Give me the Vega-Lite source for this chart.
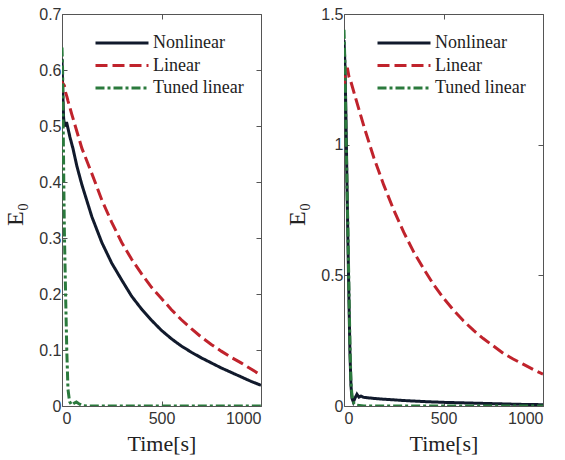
{
  "$schema": "https://vega.github.io/schema/vega-lite/v6.json",
  "background": "white",
  "padding": {"left": 3, "top": 5, "right": 5, "bottom": 5},
  "bounds": "flush",
  "spacing": 83,
  "datasets": {
    "left": [
      {"t": 0, "E": 0.62, "series": "Nonlinear"},
      {"t": 4, "E": 0.56, "series": "Nonlinear"},
      {"t": 8, "E": 0.515, "series": "Nonlinear"},
      {"t": 12, "E": 0.5, "series": "Nonlinear"},
      {"t": 18, "E": 0.505, "series": "Nonlinear"},
      {"t": 24, "E": 0.505, "series": "Nonlinear"},
      {"t": 30, "E": 0.496, "series": "Nonlinear"},
      {"t": 40, "E": 0.48, "series": "Nonlinear"},
      {"t": 55, "E": 0.46, "series": "Nonlinear"},
      {"t": 75, "E": 0.428, "series": "Nonlinear"},
      {"t": 100, "E": 0.395, "series": "Nonlinear"},
      {"t": 150, "E": 0.338, "series": "Nonlinear"},
      {"t": 200, "E": 0.292, "series": "Nonlinear"},
      {"t": 250, "E": 0.255, "series": "Nonlinear"},
      {"t": 300, "E": 0.225, "series": "Nonlinear"},
      {"t": 350, "E": 0.196, "series": "Nonlinear"},
      {"t": 400, "E": 0.173, "series": "Nonlinear"},
      {"t": 450, "E": 0.153, "series": "Nonlinear"},
      {"t": 500, "E": 0.135, "series": "Nonlinear"},
      {"t": 550, "E": 0.12, "series": "Nonlinear"},
      {"t": 600, "E": 0.107, "series": "Nonlinear"},
      {"t": 650, "E": 0.096, "series": "Nonlinear"},
      {"t": 700, "E": 0.086, "series": "Nonlinear"},
      {"t": 750, "E": 0.077, "series": "Nonlinear"},
      {"t": 800, "E": 0.068, "series": "Nonlinear"},
      {"t": 850, "E": 0.06, "series": "Nonlinear"},
      {"t": 900, "E": 0.052, "series": "Nonlinear"},
      {"t": 950, "E": 0.044, "series": "Nonlinear"},
      {"t": 1000, "E": 0.037, "series": "Nonlinear"},
      {"t": 0, "E": 0.56, "series": "Linear"},
      {"t": 6, "E": 0.575, "series": "Linear"},
      {"t": 12, "E": 0.572, "series": "Linear"},
      {"t": 18, "E": 0.56, "series": "Linear"},
      {"t": 25, "E": 0.552, "series": "Linear"},
      {"t": 30, "E": 0.545, "series": "Linear"},
      {"t": 50, "E": 0.52, "series": "Linear"},
      {"t": 100, "E": 0.46, "series": "Linear"},
      {"t": 150, "E": 0.415, "series": "Linear"},
      {"t": 200, "E": 0.368, "series": "Linear"},
      {"t": 250, "E": 0.328, "series": "Linear"},
      {"t": 300, "E": 0.292, "series": "Linear"},
      {"t": 350, "E": 0.262, "series": "Linear"},
      {"t": 400, "E": 0.236, "series": "Linear"},
      {"t": 450, "E": 0.212, "series": "Linear"},
      {"t": 500, "E": 0.192, "series": "Linear"},
      {"t": 550, "E": 0.172, "series": "Linear"},
      {"t": 600, "E": 0.154, "series": "Linear"},
      {"t": 650, "E": 0.138, "series": "Linear"},
      {"t": 700, "E": 0.123, "series": "Linear"},
      {"t": 750, "E": 0.11, "series": "Linear"},
      {"t": 800, "E": 0.098, "series": "Linear"},
      {"t": 850, "E": 0.087, "series": "Linear"},
      {"t": 900, "E": 0.077, "series": "Linear"},
      {"t": 950, "E": 0.066, "series": "Linear"},
      {"t": 1000, "E": 0.055, "series": "Linear"},
      {"t": 0, "E": 0.64, "series": "Tuned linear"},
      {"t": 3, "E": 0.6, "series": "Tuned linear"},
      {"t": 6, "E": 0.5, "series": "Tuned linear"},
      {"t": 9, "E": 0.4, "series": "Tuned linear"},
      {"t": 12, "E": 0.31, "series": "Tuned linear"},
      {"t": 18, "E": 0.2, "series": "Tuned linear"},
      {"t": 24, "E": 0.1, "series": "Tuned linear"},
      {"t": 30, "E": 0.03, "series": "Tuned linear"},
      {"t": 38, "E": 0.008, "series": "Tuned linear"},
      {"t": 48, "E": 0.002, "series": "Tuned linear"},
      {"t": 60, "E": 0.005, "series": "Tuned linear"},
      {"t": 72, "E": 0.007, "series": "Tuned linear"},
      {"t": 85, "E": 0.004, "series": "Tuned linear"},
      {"t": 100, "E": 0.001, "series": "Tuned linear"},
      {"t": 130, "E": 0, "series": "Tuned linear"},
      {"t": 1000, "E": 0, "series": "Tuned linear"}
    ],
    "right": [
      {"t": 0, "E": 1.4, "series": "Nonlinear"},
      {"t": 5, "E": 1.3, "series": "Nonlinear"},
      {"t": 10, "E": 1.1, "series": "Nonlinear"},
      {"t": 15, "E": 0.85, "series": "Nonlinear"},
      {"t": 20, "E": 0.62, "series": "Nonlinear"},
      {"t": 25, "E": 0.4, "series": "Nonlinear"},
      {"t": 30, "E": 0.2, "series": "Nonlinear"},
      {"t": 35, "E": 0.08, "series": "Nonlinear"},
      {"t": 40, "E": 0.03, "series": "Nonlinear"},
      {"t": 47, "E": 0.015, "series": "Nonlinear"},
      {"t": 55, "E": 0.03, "series": "Nonlinear"},
      {"t": 65, "E": 0.045, "series": "Nonlinear"},
      {"t": 75, "E": 0.034, "series": "Nonlinear"},
      {"t": 85, "E": 0.038, "series": "Nonlinear"},
      {"t": 100, "E": 0.033, "series": "Nonlinear"},
      {"t": 150, "E": 0.029, "series": "Nonlinear"},
      {"t": 200, "E": 0.026, "series": "Nonlinear"},
      {"t": 300, "E": 0.021, "series": "Nonlinear"},
      {"t": 400, "E": 0.017, "series": "Nonlinear"},
      {"t": 500, "E": 0.014, "series": "Nonlinear"},
      {"t": 600, "E": 0.012, "series": "Nonlinear"},
      {"t": 700, "E": 0.01, "series": "Nonlinear"},
      {"t": 800, "E": 0.008, "series": "Nonlinear"},
      {"t": 900, "E": 0.006, "series": "Nonlinear"},
      {"t": 1000, "E": 0.005, "series": "Nonlinear"},
      {"t": 0, "E": 1.22, "series": "Linear"},
      {"t": 8, "E": 1.29, "series": "Linear"},
      {"t": 18, "E": 1.29, "series": "Linear"},
      {"t": 25, "E": 1.26, "series": "Linear"},
      {"t": 35, "E": 1.24, "series": "Linear"},
      {"t": 50, "E": 1.2, "series": "Linear"},
      {"t": 100, "E": 1.07, "series": "Linear"},
      {"t": 150, "E": 0.95, "series": "Linear"},
      {"t": 200, "E": 0.845, "series": "Linear"},
      {"t": 250, "E": 0.75, "series": "Linear"},
      {"t": 300, "E": 0.665, "series": "Linear"},
      {"t": 350, "E": 0.59, "series": "Linear"},
      {"t": 400, "E": 0.525, "series": "Linear"},
      {"t": 450, "E": 0.465, "series": "Linear"},
      {"t": 500, "E": 0.413, "series": "Linear"},
      {"t": 550, "E": 0.367, "series": "Linear"},
      {"t": 600, "E": 0.326, "series": "Linear"},
      {"t": 650, "E": 0.29, "series": "Linear"},
      {"t": 700, "E": 0.258, "series": "Linear"},
      {"t": 750, "E": 0.23, "series": "Linear"},
      {"t": 800, "E": 0.202, "series": "Linear"},
      {"t": 850, "E": 0.18, "series": "Linear"},
      {"t": 900, "E": 0.16, "series": "Linear"},
      {"t": 950, "E": 0.14, "series": "Linear"},
      {"t": 1000, "E": 0.122, "series": "Linear"},
      {"t": 0, "E": 1.44, "series": "Tuned linear"},
      {"t": 5, "E": 1.3, "series": "Tuned linear"},
      {"t": 10, "E": 1.05, "series": "Tuned linear"},
      {"t": 15, "E": 0.85, "series": "Tuned linear"},
      {"t": 20, "E": 0.66, "series": "Tuned linear"},
      {"t": 25, "E": 0.44, "series": "Tuned linear"},
      {"t": 30, "E": 0.23, "series": "Tuned linear"},
      {"t": 35, "E": 0.09, "series": "Tuned linear"},
      {"t": 40, "E": 0.04, "series": "Tuned linear"},
      {"t": 50, "E": 0.01, "series": "Tuned linear"},
      {"t": 60, "E": 0.003, "series": "Tuned linear"},
      {"t": 100, "E": 0, "series": "Tuned linear"},
      {"t": 1000, "E": 0, "series": "Tuned linear"}
    ]
  },
  "config": {
    "view": {"stroke": "#555", "strokeWidth": 1},
    "axis": {
      "domain": false,
      "grid": false,
      "ticks": true,
      "tickSize": -5,
      "tickColor": "#555",
      "labelFont": "Liberation Sans",
      "labelFontSize": 16,
      "labelColor": "#333",
      "labelPadding": 6,
      "titleFont": "Liberation Serif",
      "titleFontWeight": "normal",
      "titleFontSize": 22,
      "titleColor": "#222",
      "format": "~r"
    },
    "axisBottom": {"labelPadding": 9},
    "legend": {
      "orient": "none",
      "legendX": 32,
      "legendY": 18,
      "title": null,
      "symbolType": "stroke",
      "symbolSize": 2809,
      "symbolStrokeWidth": 2.8,
      "labelFont": "Liberation Serif",
      "labelFontSize": 18,
      "labelColor": "#222",
      "labelOffset": 3,
      "clipHeight": 22,
      "rowPadding": 0.5
    }
  },
  "resolve": {
    "scale": {"color": "independent", "strokeDash": "independent"},
    "legend": {"color": "independent", "strokeDash": "independent"}
  },
  "hconcat": [
    {
      "width": 199,
      "height": 392,
      "data": {"name": "left"},
      "layer": [
        {
          "mark": {"type": "line", "strokeWidth": 3, "clip": true},
          "encoding": {
            "x": {"field": "t", "type": "quantitative", "scale": {"domain": [0, 1000], "nice": false},
                  "axis": {"orient": "bottom", "values": [0, 500, 1000], "title": "Time[s]", "titleFontWeight": "normal", "titleFontSize": 22, "titleBaseline": "alphabetic", "titleY": 44}},
            "y": {"field": "E", "type": "quantitative", "scale": {"domain": [0, 0.7], "nice": false},
                  "axis": {"orient": "left", "values": [0, 0.1, 0.2, 0.3, 0.4, 0.5, 0.6, 0.7], "title": "E₀", "titleFontWeight": "normal", "titleFontSize": 24, "titlePadding": 11, "titleY": 200}},
            "color": {"field": "series", "type": "nominal",
                      "scale": {"domain": ["Nonlinear", "Linear", "Tuned linear"], "range": ["#111a2c", "#c0232c", "#2b7a3d"]}},
            "strokeDash": {"field": "series", "type": "nominal",
                      "scale": {"domain": ["Nonlinear", "Linear", "Tuned linear"], "range": [[1, 0], [12, 5], [9, 3, 3, 3]]}}
          }
        },
        {
          "mark": {"type": "line", "opacity": 0},
          "encoding": {
            "x": {"field": "t", "type": "quantitative", "axis": {"orient": "top", "values": [0, 500, 1000], "labels": false, "title": null}},
            "y": {"field": "E", "type": "quantitative", "axis": {"orient": "right", "values": [0, 0.1, 0.2, 0.3, 0.4, 0.5, 0.6, 0.7], "labels": false, "title": null}}
          }
        }
      ],
      "resolve": {"axis": {"x": "independent", "y": "independent"}}
    },
    {
      "width": 199,
      "height": 392,
      "data": {"name": "right"},
      "layer": [
        {
          "mark": {"type": "line", "strokeWidth": 3, "clip": true},
          "encoding": {
            "x": {"field": "t", "type": "quantitative", "scale": {"domain": [0, 1000], "nice": false},
                  "axis": {"orient": "bottom", "values": [0, 500, 1000], "title": "Time[s]", "titleFontWeight": "normal", "titleFontSize": 22, "titleBaseline": "alphabetic", "titleY": 44}},
            "y": {"field": "E", "type": "quantitative", "scale": {"domain": [0, 1.5], "nice": false},
                  "axis": {"orient": "left", "values": [0, 0.5, 1, 1.5], "title": "E₀", "titleFontWeight": "normal", "titleFontSize": 24, "titlePadding": 11, "titleY": 200}},
            "color": {"field": "series", "type": "nominal",
                      "scale": {"domain": ["Nonlinear", "Linear", "Tuned linear"], "range": ["#111a2c", "#c0232c", "#2b7a3d"]}},
            "strokeDash": {"field": "series", "type": "nominal",
                      "scale": {"domain": ["Nonlinear", "Linear", "Tuned linear"], "range": [[1, 0], [12, 5], [9, 3, 3, 3]]}}
          }
        },
        {
          "mark": {"type": "line", "opacity": 0},
          "encoding": {
            "x": {"field": "t", "type": "quantitative", "axis": {"orient": "top", "values": [0, 500, 1000], "labels": false, "title": null}},
            "y": {"field": "E", "type": "quantitative", "axis": {"orient": "right", "values": [0, 0.5, 1, 1.5], "labels": false, "title": null}}
          }
        }
      ],
      "resolve": {"axis": {"x": "independent", "y": "independent"}}
    }
  ]
}
